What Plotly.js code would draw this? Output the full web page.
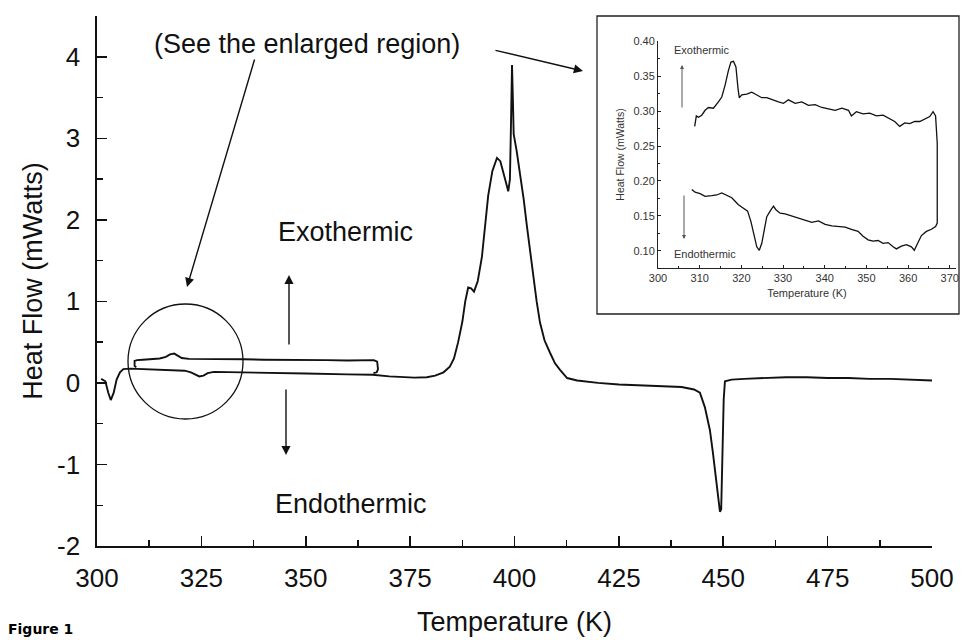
<!DOCTYPE html>
<html>
<head>
<meta charset="utf-8">
<script src="https://cdn.plot.ly/plotly-3.0.1.min.js"></script>
<style>html,body{margin:0;padding:0;background:#fff;}#chart{width:965px;height:640px;}</style>
</head>
<body>
<div id="chart"></div>
<script>
// ---- Main DSC trace (heating 300 -> 500 K) ----
const mainTemp = [301, 302, 302.7, 303.3, 304, 304.7, 305.5, 306.3, 308, 312, 316, 319, 321, 322.5, 323.5, 324.5, 325.5, 326.5, 328, 332, 340, 350, 360, 366, 370, 373, 376, 379, 381, 383, 384.5, 385.5, 386.5, 387.5, 388.2, 388.9, 389.6, 390.3, 391.2, 392.2, 393, 393.7, 394.7, 395.8, 396.6, 397.3, 398, 398.5, 398.9, 399.2, 399.4, 399.6, 399.8, 400.5, 401.3, 402.2, 403, 403.8, 404.5, 405.3, 406.1, 407.2, 408.5, 409.7, 410.9, 412.6, 415, 420, 425, 430, 435, 440, 443, 444.4, 445.6, 446.8, 447.5, 448, 448.7, 449.2, 449.5, 449.8, 450.1, 450.4, 452, 455, 460, 465, 470, 475, 480, 485, 490, 495, 500];
const mainFlow = [0.05, 0.02, -0.12, -0.21, -0.12, 0.04, 0.13, 0.17, 0.175, 0.17, 0.165, 0.16, 0.15, 0.13, 0.1, 0.08, 0.09, 0.12, 0.135, 0.13, 0.125, 0.115, 0.105, 0.1, 0.08, 0.07, 0.065, 0.07, 0.09, 0.13, 0.2, 0.3, 0.5, 0.75, 1.0, 1.17, 1.16, 1.12, 1.25, 1.55, 1.95, 2.3, 2.6, 2.76, 2.72, 2.6, 2.45, 2.35, 2.5, 3.3, 3.9, 3.5, 3.05, 2.85, 2.58, 2.25, 1.91, 1.58, 1.26, 1.0, 0.74, 0.52, 0.37, 0.24, 0.16, 0.06, 0.03, 0.0, -0.02, -0.03, -0.04, -0.05, -0.08, -0.12, -0.3, -0.58, -0.85, -1.07, -1.35, -1.58, -1.55, -0.9, -0.2, 0.02, 0.04, 0.05, 0.06, 0.07, 0.07, 0.06, 0.06, 0.05, 0.05, 0.04, 0.03];

// ---- Small loop (309 -> 367 K) drawn in the main plot ----
const loopTemp = [309.4, 309.0, 309.0, 309.6, 311, 313, 315, 316.5, 317.5, 318.5, 319.3, 320.3, 322, 326, 330, 335, 340, 345, 350, 355, 360, 364, 366.3, 367.1, 367.3, 367.0, 366.2];
const loopFlow = [0.19, 0.21, 0.27, 0.28, 0.285, 0.29, 0.3, 0.32, 0.35, 0.36, 0.34, 0.305, 0.295, 0.295, 0.29, 0.29, 0.285, 0.285, 0.28, 0.28, 0.275, 0.275, 0.28, 0.26, 0.17, 0.13, 0.12];

// ---- Inset (enlarged region) ----
const insetTemp = [308.1, 308.9, 310.1, 311.3, 312.9, 314.1, 315.3, 316.5, 317.7, 318.5, 319.3, 320.5, 321.5, 322.3, 323.1, 323.7, 324.3, 324.9, 325.5, 326.1, 326.9, 327.7, 328.3, 329.3, 330.5, 332.1, 333.7, 335.3, 336.9, 338.5, 340.1, 341.7, 343.3, 344.9, 346.4, 348.0, 349.2, 350.4, 351.6, 352.8, 354.0, 355.2, 356.4, 357.2, 358.4, 359.6, 360.8, 361.5, 362.3, 363.2, 364.4, 365.6, 366.6, 367.0,
  367.0, 367.0, 366.6, 366.0, 365.2, 364.0, 362.8, 361.6, 360.4, 359.2, 358.0, 356.8, 355.6, 354.0, 352.4, 350.8, 349.2, 347.6, 346.4, 345.7, 344.1, 342.5, 340.9, 339.3, 337.7, 336.1, 334.5, 332.9, 331.3, 330.1, 328.9, 327.3, 326.1, 324.9, 323.7, 322.5, 321.3, 320.1, 319.5, 319.2, 318.7, 318.1, 317.5, 316.9, 316.1, 315.3, 314.5, 313.3, 312.1, 311.3, 310.5, 309.7, 309.2, 308.8];
const insetFlow = [0.188, 0.184, 0.182, 0.178, 0.179, 0.180, 0.183, 0.180, 0.176, 0.171, 0.166, 0.161, 0.157, 0.142, 0.121, 0.106, 0.101, 0.111, 0.130, 0.149, 0.157, 0.164, 0.159, 0.154, 0.153, 0.150, 0.147, 0.145, 0.141, 0.143, 0.138, 0.136, 0.135, 0.134, 0.131, 0.128, 0.121, 0.116, 0.114, 0.115, 0.111, 0.112, 0.106, 0.103, 0.107, 0.109, 0.106, 0.101, 0.111, 0.122, 0.128, 0.131, 0.135, 0.140,
  0.183, 0.254, 0.293, 0.299, 0.292, 0.289, 0.285, 0.285, 0.282, 0.283, 0.278, 0.285, 0.289, 0.294, 0.293, 0.297, 0.296, 0.299, 0.293, 0.301, 0.304, 0.301, 0.303, 0.305, 0.309, 0.308, 0.313, 0.311, 0.316, 0.311, 0.313, 0.316, 0.319, 0.319, 0.323, 0.327, 0.324, 0.323, 0.319, 0.332, 0.363, 0.371, 0.370, 0.358, 0.337, 0.320, 0.313, 0.304, 0.305, 0.301, 0.294, 0.291, 0.293, 0.278];

// ---- Tick labels ----
const mainXTicks = [300, 325, 350, 375, 400, 425, 450, 475, 500];
const mainYTicks = [-2, -1, 0, 1, 2, 3, 4];
const insetXTicks = [300, 310, 320, 330, 340, 350, 360, 370];
const insetYTicks = [0.10, 0.15, 0.20, 0.25, 0.30, 0.35, 0.40];
const insetYLabels = ['0.10', '0.15', '0.20', '0.25', '0.30', '0.35', '0.40'];

const FONT = 'Liberation Sans, Arial, Helvetica, sans-serif';
const INK = '#111';

const traces = [
  {x: mainTemp, y: mainFlow, xaxis: 'x', yaxis: 'y', mode: 'lines', line: {color: INK, width: 1.9}, hoverinfo: 'skip'},
  {x: loopTemp, y: loopFlow, xaxis: 'x', yaxis: 'y', mode: 'lines', line: {color: INK, width: 1.9}, hoverinfo: 'skip'},
  {x: insetTemp, y: insetFlow, xaxis: 'x2', yaxis: 'y2', mode: 'lines', line: {color: INK, width: 1.3}, hoverinfo: 'skip'}
];

// plot area: x 97..960 px (863), y 16..546 px (530)
const px = v => (v - 97) / 863;
const py = v => (546 - v) / 530;

const layout = {
  width: 965, height: 640,
  margin: {l: 97, r: 5, t: 16, b: 94},
  paper_bgcolor: '#fff', plot_bgcolor: 'rgba(0,0,0,0)',
  showlegend: false,
  font: {family: FONT, color: INK},
  xaxis: {
    domain: [0, 0.9676], range: [300, 500], anchor: 'y',
    showline: true, linecolor: INK, linewidth: 1.6, mirror: false,
    showgrid: false, zeroline: false,
    ticks: 'inside', ticklen: 10, tickwidth: 1.6, tickcolor: INK,
    tickmode: 'array', tickvals: mainXTicks, ticktext: mainXTicks.map(String),
    tickfont: {family: FONT, size: 26, color: INK},
    ticklabelstandoff: 8,
    minor: {ticks: 'inside', ticklen: 6, tickwidth: 1.4, tickcolor: INK, tick0: 300, dtick: 12.5, showgrid: false},
    title: {text: 'Temperature (K)', font: {family: FONT, size: 27, color: INK}, standoff: 20}
  },
  yaxis: {
    domain: [0, 1], range: [-2, 4.5], anchor: 'x',
    showline: true, linecolor: INK, linewidth: 1.6,
    showgrid: false, zeroline: false,
    ticks: 'inside', ticklen: 10, tickwidth: 1.6, tickcolor: INK,
    tickmode: 'array', tickvals: mainYTicks, ticktext: mainYTicks.map(String),
    tickfont: {family: FONT, size: 26, color: INK},
    ticklabelstandoff: 10,
    minor: {ticks: 'inside', ticklen: 6, tickwidth: 1.4, tickcolor: INK, tick0: -2, dtick: 0.5, showgrid: false},
    title: {text: 'Heat Flow (mWatts)', font: {family: FONT, size: 27, color: INK}, standoff: 6}
  },
  xaxis2: {
    domain: [px(658), px(956)], range: [300, 371.5], anchor: 'y2',
    showline: true, linecolor: '#222', linewidth: 1,
    showgrid: false, zeroline: false,
    ticks: 'inside', ticklen: 3, tickwidth: 1, tickcolor: '#222',
    tickmode: 'array', tickvals: insetXTicks, ticktext: insetXTicks.map(String),
    tickfont: {family: FONT, size: 11, color: '#333'},
    minor: {ticks: 'inside', ticklen: 2, tickwidth: 1, tickcolor: '#222', tick0: 300, dtick: 5},
    title: {text: 'Temperature (K)', font: {family: FONT, size: 11, color: '#333'}, standoff: 6}
  },
  yaxis2: {
    domain: [py(268), py(41)], range: [0.0757, 0.40], anchor: 'x2',
    showline: true, linecolor: '#222', linewidth: 1,
    showgrid: false, zeroline: false,
    ticks: 'inside', ticklen: 3, tickwidth: 1, tickcolor: '#222',
    tickmode: 'array', tickvals: insetYTicks, ticktext: insetYLabels,
    tickfont: {family: FONT, size: 11, color: '#333'},
    minor: {ticks: 'inside', ticklen: 2, tickwidth: 1, tickcolor: '#222', tick0: 0.1, dtick: 0.025},
    title: {text: 'Heat Flow (mWatts)', font: {family: FONT, size: 10.5, color: '#333'}, standoff: 6}
  },
  shapes: [
    {type: 'rect', xref: 'paper', yref: 'paper', x0: px(597), x1: px(959), y0: py(314), y1: py(16),
     line: {color: '#222', width: 1.3}, fillcolor: '#fff', layer: 'below'},
    {type: 'circle', xref: 'paper', yref: 'paper', x0: px(128), x1: px(243), y0: py(419), y1: py(304),
     line: {color: INK, width: 1.3}}
  ],
  annotations: [
    {xref: 'paper', yref: 'paper', x: px(307), y: py(44), text: '(See the enlarged region)', showarrow: false,
     font: {family: FONT, size: 27, color: INK}, xanchor: 'center', yanchor: 'middle'},
    {xref: 'paper', yref: 'paper', x: px(345), y: py(232), text: 'Exothermic', showarrow: false,
     font: {family: FONT, size: 27, color: INK}, xanchor: 'center', yanchor: 'middle'},
    {xref: 'paper', yref: 'paper', x: px(351), y: py(504), text: 'Endothermic', showarrow: false,
     font: {family: FONT, size: 27, color: INK}, xanchor: 'center', yanchor: 'middle'},
    {xref: 'paper', yref: 'paper', x: px(187), y: py(287), ax: 68, ay: -229, axref: 'pixel', ayref: 'pixel',
     text: '', showarrow: true, arrowhead: 2, arrowsize: 1.3, arrowwidth: 1.4, arrowcolor: INK},
    {xref: 'paper', yref: 'paper', x: px(583), y: py(71), ax: -89, ay: -21, axref: 'pixel', ayref: 'pixel',
     text: '', showarrow: true, arrowhead: 2, arrowsize: 1.3, arrowwidth: 1.4, arrowcolor: INK},
    {xref: 'paper', yref: 'paper', x: px(289), y: py(275), ax: 0, ay: 71, axref: 'pixel', ayref: 'pixel',
     text: '', showarrow: true, arrowhead: 2, arrowsize: 1.3, arrowwidth: 1.4, arrowcolor: INK},
    {xref: 'paper', yref: 'paper', x: px(286), y: py(455), ax: 0, ay: -67, axref: 'pixel', ayref: 'pixel',
     text: '', showarrow: true, arrowhead: 2, arrowsize: 1.3, arrowwidth: 1.4, arrowcolor: INK},
    {xref: 'paper', yref: 'paper', x: px(672), y: py(50), text: 'Exothermic', showarrow: false,
     font: {family: FONT, size: 11, color: '#333'}, xanchor: 'left', yanchor: 'middle'},
    {xref: 'paper', yref: 'paper', x: px(672), y: py(254), text: 'Endothermic', showarrow: false,
     font: {family: FONT, size: 11, color: '#333'}, xanchor: 'left', yanchor: 'middle'},
    {xref: 'paper', yref: 'paper', x: px(682), y: py(65), ax: 0, ay: 44, axref: 'pixel', ayref: 'pixel',
     text: '', showarrow: true, arrowhead: 2, arrowsize: 0.8, arrowwidth: 1, arrowcolor: '#555'},
    {xref: 'paper', yref: 'paper', x: px(684), y: py(239), ax: 0, ay: -45, axref: 'pixel', ayref: 'pixel',
     text: '', showarrow: true, arrowhead: 2, arrowsize: 0.8, arrowwidth: 1, arrowcolor: '#555'},
    {xref: 'paper', yref: 'paper', x: px(6), y: py(639), text: '<b>Figure 1</b>', showarrow: false,
     font: {family: 'DejaVu Sans, sans-serif', size: 14, color: '#000'}, xanchor: 'left', yanchor: 'bottom'}
  ]
};

Plotly.newPlot('chart', traces, layout, {displayModeBar: false, staticPlot: true});
</script>
</body>
</html>
